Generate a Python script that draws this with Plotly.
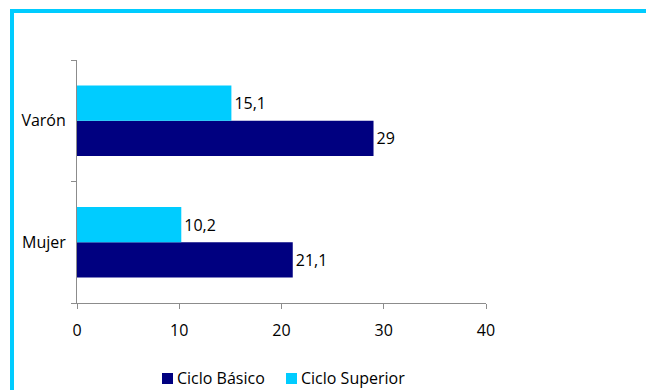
import plotly.graph_objects as go

# Categories and series values
categorias = ["Mujer", "Varón"]
ciclo_basico = [21.1, 29]
ciclo_superior = [10.2, 15.1]
ticks_x = [0, 10, 20, 30, 40]
series = ["Ciclo Básico", "Ciclo Superior"]

AZUL_OSCURO = "#000080"
CELESTE = "#00CCFF"
EJE = "#8c8c8c"
FUENTE = "Open Sans"
TAM = 16


def etiqueta(v):
    return f"{v:g}".replace(".", ",")


fig = go.Figure()
for nombre, valores, color in [(series[0], ciclo_basico, AZUL_OSCURO),
                               (series[1], ciclo_superior, CELESTE)]:
    fig.add_trace(go.Bar(
        y=categorias, x=valores, orientation="h", name=nombre,
        marker=dict(color=color, line=dict(width=0)),
        text=[etiqueta(v) for v in valores], textposition="outside",
        textfont=dict(color="#000000", size=TAM, family=FUENTE),
        cliponaxis=False, showlegend=False,
    ))

W, H = 646, 390
L, R, T, B = 77, 160, 60, 87
pw, ph = W - L - R, H - T - B


def px_x(p):
    return (p - L) / pw


def px_y(p):
    return (H - B - p) / ph


# Outer frame (only top and left edges fall inside the page)
shapes = [dict(
    type="rect", xref="paper", yref="paper",
    x0=px_x(12), x1=px_x(700), y0=px_y(11), y1=px_y(450),
    line=dict(color=CELESTE, width=4), fillcolor="rgba(0,0,0,0)",
    layer="above",
)]

# Legend below the plot: colour square + label for each series
annotations = []
leyenda_x = [162, 286]
for nombre, color, x0 in zip(series, [AZUL_OSCURO, CELESTE], leyenda_x):
    shapes.append(dict(
        type="rect", xref="paper", yref="paper",
        x0=px_x(x0), x1=px_x(x0 + 11), y0=px_y(384), y1=px_y(373),
        line=dict(width=0), fillcolor=color,
    ))
    annotations.append(dict(
        text=nombre, xref="paper", yref="paper",
        x=px_x(x0 + 13), y=px_y(378), xanchor="left", yanchor="middle",
        showarrow=False, font=dict(size=TAM, family=FUENTE, color="#000000"),
    ))

fig.update_layout(
    width=W, height=H,
    margin=dict(l=L, r=R, t=T, b=B),
    paper_bgcolor="white", plot_bgcolor="white",
    barmode="group", bargap=0.42, bargroupgap=0,
    font=dict(family=FUENTE, size=TAM, color="#000000"),
    showlegend=False,
    xaxis=dict(
        range=[0, 40], tickvals=ticks_x, showgrid=False, zeroline=False,
        showline=True, linecolor=EJE, linewidth=1,
        ticks="outside", ticklen=5, tickcolor=EJE,
        ticklabelstandoff=8, automargin=False,
    ),
    yaxis=dict(
        type="category", categoryorder="array", categoryarray=categorias,
        showgrid=False, zeroline=False,
        showline=True, linecolor=EJE, linewidth=1,
        ticks="outside", ticklen=5, tickcolor=EJE, tickson="boundaries",
        ticklabelstandoff=7, automargin=False,
    ),
    shapes=shapes,
    annotations=annotations,
)

fig.write_html("out.html")
